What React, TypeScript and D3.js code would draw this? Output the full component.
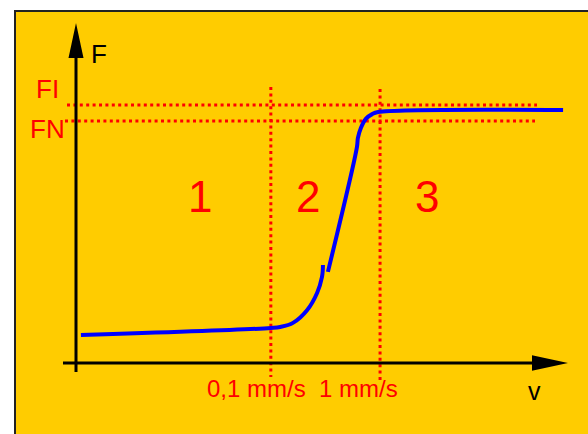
import React from "react";
import * as d3 from "d3";

// Schematic data (v in arbitrary units 0..100, F in arbitrary units 0..100)
const lowSegmentV = [1.0, 39.6, 41.5, 44.1, 47.0, 49.0, 50.0, 50.2];
const lowSegmentF = [8.2, 10.3, 10.6, 11.8, 15.6, 20.6, 25.3, 28.8];
const highSegmentV = [51.2, 57.1, 57.3, 57.9, 58.9, 60.2, 61.4, 99.0];
const highSegmentF = [26.8, 63.5, 66.2, 69.1, 71.8, 73.2, 73.8, 74.4];

const levelNames = ["FI", "FN"];
const levelValues = [75.9, 71.2];
const speedLabels = ["0,1 mm/s", "1 mm/s"];
const speedValues = [39.6, 61.8];
const regionLabels = ["1", "2", "3"];

const W = 588;
const H = 434;

export default function App() {
  const x = d3.scaleLinear().domain([0, 100]).range([76, 568]);
  const y = d3.scaleLinear().domain([0, 100]).range([363, 23]);

  const line = d3
    .line<[number, number]>()
    .x((d) => x(d[0]))
    .y((d) => y(d[1]))
    .curve(d3.curveCatmullRom.alpha(0.5));

  const low: [number, number][] = lowSegmentV.map((v, i) => [v, lowSegmentF[i]]);
  const high: [number, number][] = highSegmentV.map((v, i) => [v, highSegmentF[i]]);

  const red = "#FF0000";
  const font = "'Liberation Sans', Arial, sans-serif";
  const dash = "3 3.4";

  const x0 = x(0);
  const y0 = y(0);

  return (
    <svg
      width={W}
      height={H}
      style={{ position: "absolute", left: 0, top: 0, background: "#fff" }}
    >
      <rect x={15} y={11} width={W} height={H} fill="#FFCC00" stroke="#222" strokeWidth={2} />

      {/* horizontal reference lines */}
      <line x1={67} x2={537} y1={y(levelValues[0])} y2={y(levelValues[0])} stroke={red} strokeWidth={3} strokeDasharray={dash} />
      <line x1={65} x2={535} y1={y(levelValues[1])} y2={y(levelValues[1])} stroke={red} strokeWidth={3} strokeDasharray={dash} />
      {/* vertical reference lines */}
      <line x1={x(speedValues[0])} x2={x(speedValues[0])} y1={87} y2={377} stroke={red} strokeWidth={3} strokeDasharray={dash} />
      <line x1={x(speedValues[1])} x2={x(speedValues[1])} y1={89} y2={383} stroke={red} strokeWidth={3} strokeDasharray={dash} />

      {/* axes */}
      <line x1={x0} x2={x0} y1={372} y2={56} stroke="#000" strokeWidth={3} />
      <path d={`M${x0},23 L${x0 + 7.5},58 L${x0 - 7.5},58 Z`} fill="#000" />
      <line x1={63} x2={534} y1={y0} y2={y0} stroke="#000" strokeWidth={3} />
      <path d={`M568,${y0} L532,${y0 - 7.7} L532,${y0 + 7.7} Z`} fill="#000" />

      {/* curve */}
      <path d={line(low) || ""} fill="none" stroke="#0000FF" strokeWidth={4} />
      <path d={line(high) || ""} fill="none" stroke="#0000FF" strokeWidth={4} />

      {/* texts */}
      <text x={91} y={63} fontFamily={font} fontSize={26} fill="#000">F</text>
      <text x={36} y={98} fontFamily={font} fontSize={26} fill={red}>{levelNames[0]}</text>
      <text x={30} y={138} fontFamily={font} fontSize={26} fill={red}>{levelNames[1]}</text>

      <text x={188} y={212} fontFamily={font} fontSize={44} fill={red}>{regionLabels[0]}</text>
      <text x={296} y={212} fontFamily={font} fontSize={44} fill={red}>{regionLabels[1]}</text>
      <text x={415} y={212} fontFamily={font} fontSize={44} fill={red}>{regionLabels[2]}</text>

      <text x={207} y={397} fontFamily={font} fontSize={24} fill={red}>{speedLabels[0]}</text>
      <text x={319} y={397} fontFamily={font} fontSize={24} fill={red}>{speedLabels[1]}</text>

      <text x={528} y={400} fontFamily={font} fontSize={25} fill="#000">v</text>
    </svg>
  );
}
